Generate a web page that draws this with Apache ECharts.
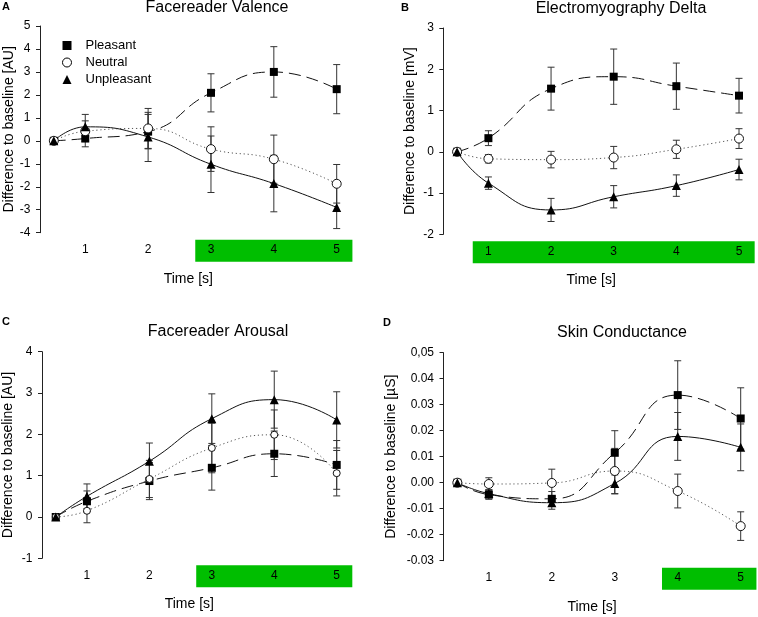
<!DOCTYPE html>
<html><head><meta charset="utf-8">
<script src="https://cdn.jsdelivr.net/npm/echarts@6/dist/echarts.min.js"></script>
<style>html,body{margin:0;padding:0;background:#fff}#c{width:758px;height:617px}</style>
</head><body><div id="c"></div>
<script>
// ---- data ----
const xs = [0.5, 1, 2, 3, 4, 5];
const xTickLabels = ['1', '2', '3', '4', '5'];

// A: Facereader Valence
const pleasantA = [0, 0.1, 0.4, 2.09, 3.0, 2.25];
const pleasantAErr = [0, 0.36, 0.75, 0.83, 1.1, 1.07];
const neutralA = [0, 0.42, 0.54, -0.36, -0.8, -1.87];
const neutralAErr = [0, 0.45, 0.87, 0.97, 1.05, 0.84];
const unpleasantA = [0, 0.61, 0.17, -1.02, -1.86, -2.9];
const unpleasantAErr = [0, 0.54, 1.07, 1.23, 1.23, 0.92];
const yTicksA = ['-4', '-3', '-2', '-1', '0', '1', '2', '3', '4', '5'];

// B: Electromyography Delta
const pleasantB = [0, 0.33, 1.53, 1.82, 1.59, 1.36];
const pleasantBErr = [0, 0.18, 0.52, 0.67, 0.56, 0.42];
const neutralB = [0, -0.17, -0.19, -0.14, 0.06, 0.32];
const neutralBErr = [0, 0.1, 0.2, 0.27, 0.22, 0.24];
const unpleasantB = [0, -0.76, -1.41, -1.09, -0.82, -0.43];
const unpleasantBErr = [0, 0.15, 0.28, 0.27, 0.26, 0.25];
const yTicksB = ['-2', '-1', '0', '1', '2', '3'];

// C: Facereader Arousal
const pleasantC = [0, 0.38, 0.87, 1.19, 1.53, 1.26];
const pleasantCErr = [0, 0.25, 0.45, 0.54, 0.55, 0.59];
const neutralC = [0, 0.15, 0.92, 1.67, 1.99, 1.06];
const neutralCErr = [0, 0.29, 0.45, 0.6, 0.6, 0.55];
const unpleasantC = [0, 0.5, 1.35, 2.38, 2.84, 2.35];
const unpleasantCErr = [0, 0.3, 0.44, 0.6, 0.69, 0.68];
const yTicksC = ['-1', '0', '1', '2', '3', '4'];

// D: Skin Conductance
const pleasantD = [0, -0.0046, -0.0062, 0.0115, 0.0337, 0.0247];
const pleasantDErr = [0, 0.0018, 0.0028, 0.0085, 0.0132, 0.0118];
const neutralD = [0, -0.0005, -0.0001, 0.0045, -0.0032, -0.0167];
const neutralDErr = [0, 0.0024, 0.0053, 0.0087, 0.0065, 0.0055];
const unpleasantD = [0, -0.0042, -0.0077, -0.0003, 0.0178, 0.0136];
const unpleasantDErr = [0, 0.0015, 0.0025, 0.004, 0.0092, 0.009];
const yTicksD = ['-0.03', '-0.02', '-0.01', '0.00', '0.01', '0.02', '0.03', '0.04', '0,05'];

// highlighted time windows (start of green band, end)
const greenStart = [2.75, 0.75, 2.75, 3.75];
const greenEnd = 5.25;

const titles = ['Facereader Valence', 'Electromyography Delta', 'Facereader Arousal', 'Skin Conductance'];
const letters = ['A', 'B', 'C', 'D'];
const yNames = ['Difference to baseline [AU]', 'Difference to baseline [mV]', 'Difference to baseline [AU]', 'Difference to baseline [µS]'];
const seriesNames = ['Pleasant', 'Neutral', 'Unpleasant'];

// ---- layout ----
const FONT = 'Liberation Sans, Arial, Helvetica, sans-serif';
const grids = [
  {left: 40, right: 421.3, top: 26, bottom: 384.3},
  {left: 443.3, right: 19, top: 28, bottom: 382.7},
  {left: 40, right: 421.3, top: 351.7, bottom: 58.7},
  {left: 443.5, right: 17.3, top: 352.7, bottom: 56.3}
];
const yRanges = [
  {min: -4, max: 5, interval: 1, ticks: yTicksA, gap: 23},
  {min: -2, max: 3, interval: 1, ticks: yTicksB, gap: 26},
  {min: -1, max: 4, interval: 1, ticks: yTicksC, gap: 27},
  {min: -0.03, max: 0.05, interval: 0.01, ticks: yTicksD, gap: 45}
];
const panelData = [
  [[pleasantA, pleasantAErr], [neutralA, neutralAErr], [unpleasantA, unpleasantAErr]],
  [[pleasantB, pleasantBErr], [neutralB, neutralBErr], [unpleasantB, unpleasantBErr]],
  [[pleasantC, pleasantCErr], [neutralC, neutralCErr], [unpleasantC, unpleasantCErr]],
  [[pleasantD, pleasantDErr], [neutralD, neutralDErr], [unpleasantD, unpleasantDErr]]
];
const titlePos = [[217, 0], [621, 1], [218, 324], [622, 325]];
const letterPos = [[2, 1], [401, 2], [2, 316], [383, 317]];

const styles = [
  {symbol: 'rect', size: 8, item: {color: '#000', borderColor: '#000', borderWidth: 0}, line: {color: '#111', width: 1, type: [12, 6]}},
  {symbol: 'circle', size: 9, item: {color: '#fff', borderColor: '#111', borderWidth: 1}, line: {color: '#555', width: 1, type: [1.2, 2.8]}},
  {symbol: 'triangle', size: 9, item: {color: '#000', borderColor: '#000', borderWidth: 0}, line: {color: '#111', width: 1, type: 'solid'}}
];

const option = {
  animation: false,
  backgroundColor: '#fff',
  textStyle: {fontFamily: FONT},
  title: [],
  legend: {
    orient: 'vertical', left: 57, top: 34, itemGap: 4, itemWidth: 9, itemHeight: 9,
    textStyle: {fontFamily: FONT, fontSize: 13, color: '#000', lineHeight: 13, padding: [0, 0, 0, 9]},
    data: [
      {name: 'Pleasant', icon: 'rect', itemStyle: {color: '#000', borderWidth: 0}},
      {name: 'Neutral', icon: 'circle', itemStyle: {color: '#fff', borderColor: '#000', borderWidth: 1}},
      {name: 'Unpleasant', icon: 'triangle', itemStyle: {color: '#000', borderWidth: 0}}
    ]
  },
  grid: grids.map(g => Object.assign({containLabel: false}, g)),
  xAxis: [], yAxis: [], series: []
};

for (let p = 0; p < 4; p++) {
  option.title.push({text: titles[p], left: titlePos[p][0], top: titlePos[p][1], textAlign: 'center', padding: 0,
    textStyle: {fontFamily: FONT, fontSize: 16, fontWeight: 'normal', color: '#000'}});
  option.title.push({text: letters[p], left: letterPos[p][0], top: letterPos[p][1], padding: 0,
    textStyle: {fontFamily: FONT, fontSize: 11, fontWeight: 'bold', color: '#000'}});
  option.xAxis.push({
    type: 'value', gridIndex: p, min: 0.28, max: 5,
    name: 'Time [s]', nameLocation: 'middle', nameGap: 39,
    nameTextStyle: {fontFamily: FONT, fontSize: 14, color: '#000'},
    axisLine: {show: false}, axisTick: {show: false}, splitLine: {show: false},
    axisLabel: {customValues: [1, 2, 3, 4, 5], formatter: (v) => xTickLabels[Math.round(v) - 1], margin: 11,
      fontFamily: FONT, fontSize: 12, color: '#000'}
  });
  const yr = yRanges[p];
  option.yAxis.push({
    type: 'value', gridIndex: p, min: yr.min, max: yr.max, interval: yr.interval,
    name: yNames[p], nameLocation: 'middle', nameGap: yr.gap,
    nameTextStyle: {fontFamily: FONT, fontSize: 14, color: '#000'},
    axisLine: {show: true, lineStyle: {color: '#222', width: 1}},
    axisTick: {show: true, length: 4, lineStyle: {color: '#222'}},
    splitLine: {show: false},
    axisLabel: {margin: 9.5, fontFamily: FONT, fontSize: 12, color: '#000',
      formatter: (v, i) => yr.ticks[i]}
  });
  // green band behind x tick labels
  const ymin = yr.min;
  option.series.push({
    type: 'custom', xAxisIndex: p, yAxisIndex: p, z: -1, clip: false, silent: true,
    data: [[greenStart[p], greenEnd]],
    renderItem: function (params, api) {
      const a = api.coord([api.value(0), ymin]);
      const b = api.coord([api.value(1), ymin]);
      return {type: 'rect', shape: {x: a[0], y: a[1] + 7, width: b[0] - a[0], height: 22},
        style: {fill: '#00be00'}};
    }
  });
  for (let s = 0; s < 3; s++) {
    const vals = panelData[p][s][0], errs = panelData[p][s][1];
    const st = styles[s];
    // error bars
    option.series.push({
      type: 'custom', xAxisIndex: p, yAxisIndex: p, z: 3, clip: false, silent: true,
      data: xs.map((x, i) => [x, vals[i], errs[i]]),
      renderItem: function (params, api) {
        const x = api.value(0), y = api.value(1), e = api.value(2);
        if (!e) return null;
        const t = api.coord([x, y + e]), b = api.coord([x, y - e]);
        const w = 3.5;
        const ls = {stroke: '#333', lineWidth: 1};
        return {type: 'group', children: [
          {type: 'line', shape: {x1: t[0], y1: t[1], x2: b[0], y2: b[1]}, style: ls},
          {type: 'line', shape: {x1: t[0] - w, y1: t[1], x2: t[0] + w, y2: t[1]}, style: ls},
          {type: 'line', shape: {x1: b[0] - w, y1: b[1], x2: b[0] + w, y2: b[1]}, style: ls}
        ]};
      }
    });
    option.series.push({
      type: 'line', name: seriesNames[s], xAxisIndex: p, yAxisIndex: p, z: 4,
      smooth: 0.5, clip: false,
      symbol: st.symbol, symbolSize: (p === 2 && s === 1) ? 7 : st.size,
      showAllSymbol: true,
      itemStyle: st.item, lineStyle: st.line, color: st.item.color,
      data: xs.map((x, i) => [x, vals[i]])
    });
  }
}

const chart = echarts.init(document.getElementById('c'), null, {renderer: 'canvas'});
chart.setOption(option);
</script></body></html>
